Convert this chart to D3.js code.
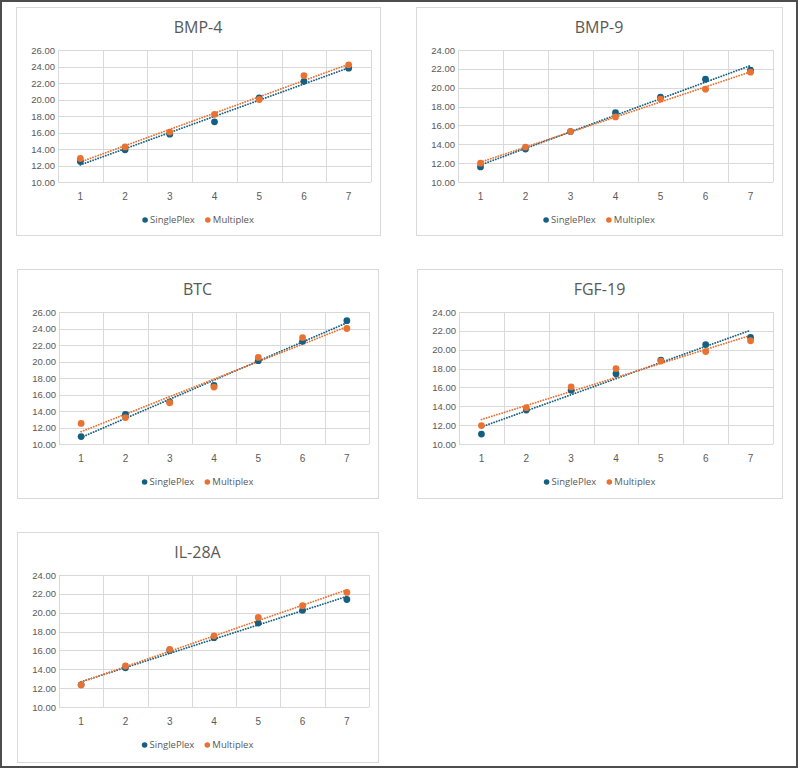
<!DOCTYPE html>
<html>
<head>
<meta charset="utf-8">
<script src="https://cdn.jsdelivr.net/npm/d3@7"></script>
<style>
  body { margin: 0; background: #fff; }
  svg { display: block; font-family: "Open Sans", "Noto Sans", sans-serif; }
</style>
</head>
<body>
<svg id="chart" width="800" height="769"></svg>
<script>
"use strict";

// data
const categories = [1, 2, 3, 4, 5, 6, 7];
const seriesNames = ["SinglePlex", "Multiplex"];
const seriesColors = ["#156082", "#E97132"];

const titles = ["BMP-4", "BMP-9", "BTC", "FGF-19", "IL-28A"];
const yMax = [26, 24, 26, 24, 24];

const bmp4Single = [12.5, 13.9, 15.8, 17.3, 20.2, 22.2, 23.8];
const bmp4Multi = [12.85, 14.25, 16.05, 18.2, 20.0, 22.9, 24.2];

const bmp9Single = [11.6, 13.5, 15.35, 17.35, 19.0, 20.9, 21.85];
const bmp9Multi = [12.0, 13.7, 15.35, 16.9, 18.8, 19.85, 21.65];

const btcSingle = [10.9, 13.6, 15.1, 17.1, 20.1, 22.45, 24.95];
const btcMulti = [12.5, 13.2, 15.0, 16.9, 20.5, 22.9, 24.0];

const fgf19Single = [11.05, 13.6, 15.7, 17.45, 18.9, 20.55, 21.3];
const fgf19Multi = [11.95, 13.85, 16.05, 18.0, 18.8, 19.8, 20.95];

const il28aSingle = [12.35, 14.15, 16.0, 17.35, 18.9, 20.25, 21.4];
const il28aMulti = [12.35, 14.35, 16.1, 17.55, 19.5, 20.75, 22.15];

const chartSeries = [
  [bmp4Single, bmp4Multi],
  [bmp9Single, bmp9Multi],
  [btcSingle, btcMulti],
  [fgf19Single, fgf19Multi],
  [il28aSingle, il28aMulti]
];

// panel boxes (x, y, w, h)
const panels = [
  { x: 16, y: 7, w: 364, h: 228 },
  { x: 416, y: 7, w: 366, h: 228 },
  { x: 17, y: 269, w: 361, h: 229 },
  { x: 417, y: 269, w: 365, h: 229 },
  { x: 17, y: 532, w: 361, h: 230 }
];

const textColor = "#595959";
const gridColor = "#d9d9d9";

const svg = d3.select("#chart");

// outer frame
svg.append("rect")
  .attr("x", 1).attr("y", 1)
  .attr("width", 796).attr("height", 766)
  .attr("fill", "#fff")
  .attr("stroke", "#4d4d4d")
  .attr("stroke-width", 2);

// least squares line, same as an excel linear trendline
function fit(values) {
  const xs = categories;
  const mx = d3.mean(xs), my = d3.mean(values);
  let num = 0, den = 0;
  xs.forEach(function (x, i) {
    num += (x - mx) * (values[i] - my);
    den += (x - mx) * (x - mx);
  });
  const slope = num / den;
  return function (x) { return my + slope * (x - mx); };
}

titles.forEach(function (title, k) {
  const p = panels[k];
  const g = svg.append("g").attr("transform", "translate(" + p.x + "," + p.y + ")");

  g.append("rect")
    .attr("x", 0.5).attr("y", 0.5)
    .attr("width", p.w).attr("height", p.h)
    .attr("fill", "#fff")
    .attr("stroke", gridColor);

  const left = 42, right = p.w - 9, top = 43, bottom = 175;

  const x = d3.scaleBand().domain(categories).range([left, right]);
  const y = d3.scaleLinear().domain([10, yMax[k]]).range([bottom, top]);
  const yTicks = d3.range(10, yMax[k] + 0.001, 2);

  // gridlines
  g.append("g").selectAll("line.h")
    .data(yTicks)
    .enter().append("line")
    .attr("x1", left).attr("x2", right)
    .attr("y1", function (d) { return Math.round(y(d)) + 0.5; })
    .attr("y2", function (d) { return Math.round(y(d)) + 0.5; })
    .attr("stroke", gridColor);

  const edges = categories.map(function (c) { return x(c); }).concat([right]);
  g.append("g").selectAll("line.v")
    .data(edges)
    .enter().append("line")
    .attr("x1", function (d) { return Math.round(d) + 0.5; })
    .attr("x2", function (d) { return Math.round(d) + 0.5; })
    .attr("y1", top).attr("y2", bottom)
    .attr("stroke", gridColor);

  // axes
  const yAxis = g.append("g")
    .attr("transform", "translate(" + (left - 3) + ",0)")
    .call(d3.axisLeft(y).tickValues(yTicks).tickSize(0).tickFormat(d3.format(".2f")));
  yAxis.select(".domain").remove();
  yAxis.selectAll("text")
    .attr("fill", textColor)
    .style("font-size", "9.5px")
    .attr("x", 0);

  const xAxis = g.append("g")
    .attr("transform", "translate(0," + (bottom + 8) + ")")
    .call(d3.axisBottom(x).tickSize(0));
  xAxis.select(".domain").remove();
  xAxis.selectAll("text")
    .attr("fill", textColor)
    .style("font-size", "10px");

  // title
  g.append("text")
    .attr("x", p.w / 2)
    .attr("y", 26)
    .attr("text-anchor", "middle")
    .attr("fill", textColor)
    .style("font-size", "16px")
    .text(title);

  // trendlines then markers
  chartSeries[k].forEach(function (values, s) {
    const f = fit(values);
    const cx = function (c) { return x(c) + x.bandwidth() / 2; };
    g.append("line")
      .attr("x1", cx(categories[0]))
      .attr("y1", y(f(categories[0])))
      .attr("x2", cx(categories[categories.length - 1]))
      .attr("y2", y(f(categories[categories.length - 1])))
      .attr("stroke", seriesColors[s])
      .attr("stroke-width", 1.8)
      .attr("stroke-dasharray", "0.1 2.6")
      .attr("stroke-linecap", "round");
  });

  chartSeries[k].forEach(function (values, s) {
    g.append("g").selectAll("circle")
      .data(values)
      .enter().append("circle")
      .attr("cx", function (d, i) { return x(categories[i]) + x.bandwidth() / 2; })
      .attr("cy", function (d) { return y(d); })
      .attr("r", 3.4)
      .attr("fill", seriesColors[s]);
  });

  // legend
  const legend = g.append("g").attr("transform", "translate(0," + 213 + ")");
  let offset = 0;
  seriesNames.forEach(function (name, s) {
    const item = legend.append("g").attr("transform", "translate(" + offset + ",0)");
    item.append("circle").attr("cx", 3).attr("cy", 0).attr("r", 2.8).attr("fill", seriesColors[s]);
    const t = item.append("text")
      .attr("x", 8).attr("y", 3.3)
      .attr("fill", textColor)
      .style("font-size", "9.5px")
      .text(name);
    offset += 8 + t.node().getComputedTextLength() + 10;
  });
  const legendWidth = offset - 10;
  legend.attr("transform", "translate(" + (p.w / 2 - legendWidth / 2) + ",213)");
});
</script>
</body>
</html>
